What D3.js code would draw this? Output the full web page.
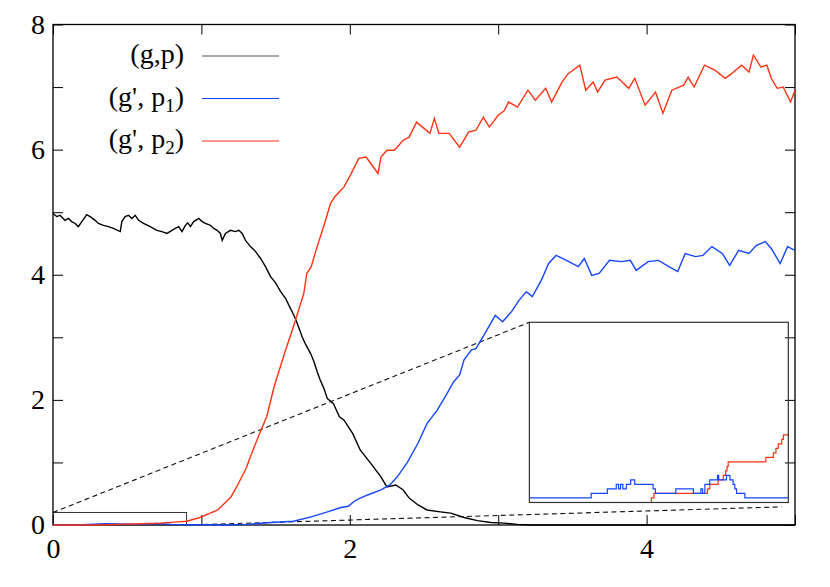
<!DOCTYPE html>
<html>
<head>
<meta charset="utf-8">
<script src="https://cdn.jsdelivr.net/npm/d3@7"></script>
<style>
  body { margin: 0; background: #fff; }
  text { font-family: "Liberation Serif", "DejaVu Serif", serif; }
</style>
</head>
<body>
<div id="chart"></div>
<script>
// series: [time, value]
var seriesGP = [[0,4.98],[0.025,4.93],[0.047,4.95],[0.081,4.87],[0.104,4.90],[0.126,4.85],[0.149,4.82],
  [0.171,4.77],[0.194,4.85],[0.227,4.96],[0.250,4.93],[0.284,4.87],[0.306,4.82],[0.340,4.79],[0.374,4.77],
  [0.407,4.74],[0.453,4.69],[0.464,4.85],[0.486,4.93],[0.509,4.95],[0.531,4.90],[0.554,4.95],[0.577,4.87],
  [0.610,4.82],[0.655,4.77],[0.700,4.71],[0.734,4.69],[0.768,4.66],[0.802,4.71],[0.824,4.74],[0.847,4.77],
  [0.869,4.69],[0.892,4.79],[0.908,4.83],[0.926,4.77],[0.948,4.85],[0.982,4.90],[1.005,4.85],[1.027,4.82],
  [1.061,4.79],[1.083,4.74],[1.106,4.71],[1.128,4.66],[1.14,4.55],[1.162,4.66],[1.196,4.71],[1.23,4.69],
  [1.252,4.71],[1.275,4.66],[1.297,4.55],[1.331,4.45],[1.365,4.37],[1.399,4.26],[1.432,4.13],[1.466,3.97],
  [1.50,3.87],[1.534,3.73],[1.568,3.62],[1.59,3.51],[1.624,3.35],[1.646,3.22],[1.68,3.00],[1.70,2.90],
  [1.736,2.74],[1.759,2.61],[1.78,2.45],[1.80,2.32],[1.826,2.18],[1.849,2.02],[1.89,1.94],[1.93,1.73],
  [1.96,1.68],[2.02,1.46],[2.07,1.20],[2.14,0.99],[2.21,0.77],[2.25,0.61],[2.31,0.64],[2.36,0.56],
  [2.40,0.43],[2.46,0.32],[2.52,0.24],[2.61,0.21],[2.68,0.19],[2.77,0.12],[2.86,0.07],[2.95,0.04],[3.04,0.03],
  [3.13,0.01],[3.22,0],[5,0]];

var seriesP1 = [[0,0],[0.2,0.005],[0.35,0.02],[0.45,0.015],[0.6,0.01],[0.7,0.025],[0.8,0.01],[0.9,0.005],
  [1.0,0.005],[1.17,0],[1.3,0.01],[1.47,0.04],[1.62,0.06],[1.74,0.13],[1.85,0.21],[1.94,0.28],[1.99,0.30],
  [2.03,0.38],[2.07,0.43],[2.12,0.48],[2.21,0.56],[2.27,0.64],[2.32,0.77],[2.39,1.01],[2.46,1.31],[2.52,1.62],
  [2.59,1.84],[2.65,2.08],[2.70,2.29],[2.74,2.40],[2.77,2.64],[2.82,2.80],[2.85,2.82],[2.91,3.06],[2.98,3.35],
  [3.03,3.25],[3.09,3.41],[3.14,3.59],[3.19,3.73],[3.23,3.65],[3.29,3.91],[3.34,4.18],[3.39,4.31],[3.46,4.23],
  [3.54,4.13],[3.58,4.26],[3.63,3.99],[3.68,4.02],[3.75,4.23],[3.83,4.21],[3.89,4.23],[3.93,4.07],[4.01,4.21],
  [4.08,4.23],[4.15,4.13],[4.21,4.05],[4.26,4.34],[4.33,4.29],[4.38,4.31],[4.44,4.45],[4.51,4.34],[4.56,4.15],
  [4.62,4.39],[4.69,4.34],[4.74,4.47],[4.80,4.53],[4.84,4.42],[4.90,4.18],[4.95,4.45],[5.0,4.39]];

var seriesP2 = [[0,0],[0.3,0],[0.45,0.01],[0.6,0.02],[0.72,0.03],[0.84,0.05],[0.90,0.06],[0.99,0.12],[1.06,0.19],
  [1.11,0.24],[1.17,0.38],[1.20,0.45],[1.24,0.62],[1.30,0.90],[1.34,1.15],[1.39,1.45],[1.44,1.73],[1.49,2.21],
  [1.56,2.74],[1.62,3.17],[1.69,3.70],[1.71,4.02],[1.74,4.13],[1.78,4.45],[1.83,4.82],[1.87,5.14],[1.90,5.25],
  [1.96,5.40],[2.01,5.62],[2.06,5.86],[2.11,5.88],[2.15,5.75],[2.19,5.62],[2.21,5.88],[2.25,5.99],[2.30,5.99],
  [2.36,6.15],[2.40,6.20],[2.45,6.44],[2.49,6.36],[2.54,6.26],[2.57,6.50],[2.60,6.26],[2.67,6.26],[2.74,6.04],
  [2.80,6.28],[2.85,6.31],[2.90,6.52],[2.94,6.36],[3.00,6.55],[3.04,6.62],[3.07,6.76],[3.13,6.68],[3.20,6.95],
  [3.25,6.79],[3.32,6.98],[3.36,6.76],[3.43,7.08],[3.47,7.21],[3.55,7.35],[3.59,6.95],[3.64,7.08],[3.67,6.92],
  [3.72,7.11],[3.80,7.16],[3.88,6.98],[3.92,7.14],[3.99,6.71],[4.06,6.92],[4.11,6.58],[4.17,6.95],[4.25,7.03],
  [4.28,7.16],[4.32,7.00],[4.39,7.35],[4.46,7.27],[4.53,7.14],[4.57,7.21],[4.64,7.35],[4.69,7.24],[4.72,7.51],
  [4.77,7.32],[4.81,7.35],[4.84,7.14],[4.88,6.98],[4.92,7.00],[4.97,6.76],[5.0,6.95]];

// inset: zoom of the box [0,0.9] x [0,0.2], step data
var insetP1 = [[0,0.005],[0.215,0.010],[0.271,0.015],[0.302,0.020],[0.310,0.015],[0.317,0.020],[0.325,0.015],
  [0.337,0.020],[0.352,0.025],[0.366,0.020],[0.430,0.015],[0.438,0.010],[0.509,0.015],[0.570,0.010],[0.596,0.015],
  [0.602,0.010],[0.610,0.020],[0.627,0.025],[0.654,0.030],[0.658,0.025],[0.685,0.030],[0.697,0.025],[0.708,0.020],
  [0.714,0.015],[0.720,0.010],[0.749,0.005],[0.9,0.005]];
var insetP2 = [[0,0],[0.424,0.005],[0.433,0.010],[0.619,0.015],[0.627,0.020],[0.656,0.025],[0.674,0.030],
  [0.682,0.035],[0.687,0.040],[0.691,0.045],[0.822,0.050],[0.848,0.055],[0.857,0.060],[0.865,0.065],
  [0.877,0.070],[0.883,0.075],[0.9,0.075]];

var xTicks = [0, 1, 2, 3, 4, 5];
var yTicks = [0, 1, 2, 3, 4, 5, 6, 7, 8];

var margin = {top: 24.5, right: 35, bottom: 62, left: 53},
    width = 830 - margin.left - margin.right,
    height = 587 - margin.top - margin.bottom;

var svg = d3.select("#chart")
    .append("svg")
    .attr("width", 830)
    .attr("height", 587)
    .append("g")
    .attr("transform", "translate(" + margin.left + "," + margin.top + ")");

var x = d3.scaleLinear().domain([0, 5]).range([0, width]);
var y = d3.scaleLinear().domain([0, 8]).range([height, 0]);

var evenLabel = function(d) { return d % 2 === 0 ? d : ""; };

// axes, ticks pointing inwards on all four sides
var xAxis = svg.append("g")
    .attr("transform", "translate(0," + height + ")")
    .call(d3.axisBottom(x).tickValues(xTicks).tickSize(-10).tickPadding(13).tickFormat(evenLabel));
var yAxis = svg.append("g")
    .call(d3.axisLeft(y).tickValues(yTicks).tickSize(-10).tickPadding(8).tickFormat(evenLabel));
var xTop = svg.append("g")
    .call(d3.axisTop(x).tickValues(xTicks).tickSize(-10).tickFormat(""));
var yRight = svg.append("g")
    .attr("transform", "translate(" + width + ",0)")
    .call(d3.axisRight(y).tickValues(yTicks).tickSize(-10).tickFormat(""));

[xAxis, yAxis, xTop, yRight].forEach(function(g) {
  g.select(".domain").remove();
  g.selectAll(".tick line").attr("stroke", "#000").attr("stroke-width", 1);
  g.selectAll("text").attr("font-size", 28).attr("fill", "#000")
    .style("font-family", "'Liberation Serif', serif");
});

svg.append("rect")
    .attr("width", width).attr("height", height)
    .attr("fill", "none").attr("stroke", "#000").attr("stroke-width", 1.3);

// zoom box and its inset
var insetBox = {x0: 3.21, x1: 4.955, y0: 0.36, y1: 3.24};

svg.append("rect")
    .attr("x", x(0)).attr("y", y(0.2))
    .attr("width", x(0.9) - x(0)).attr("height", y(0) - y(0.2))
    .attr("fill", "none").attr("stroke", "#333").attr("stroke-width", 1);

svg.append("line")
    .attr("x1", x(0)).attr("y1", y(0.2))
    .attr("x2", x(insetBox.x0)).attr("y2", y(insetBox.y1))
    .attr("stroke", "#111").attr("stroke-width", 1.1).attr("stroke-dasharray", "5,3.5");
svg.append("line")
    .attr("x1", x(0.9)).attr("y1", y(0))
    .attr("x2", x(4.91)).attr("y2", y(0.29))
    .attr("stroke", "#111").attr("stroke-width", 1.1).attr("stroke-dasharray", "5,3.5");

var line = d3.line()
    .x(function(d) { return x(d[0]); })
    .y(function(d) { return y(d[1]); });

svg.append("path").datum(seriesGP).attr("d", line)
    .attr("fill", "none").attr("stroke", "#000").attr("stroke-width", 1.4);
svg.append("path").datum(seriesP1).attr("d", line)
    .attr("fill", "none").attr("stroke", "#1446ff").attr("stroke-width", 1.4);
svg.append("path").datum(seriesP2).attr("d", line)
    .attr("fill", "none").attr("stroke", "#ff3212").attr("stroke-width", 1.4);

// inset plot
var ix = d3.scaleLinear().domain([0, 0.9]).range([x(insetBox.x0), x(insetBox.x1)]);
var iy = d3.scaleLinear().domain([0, 0.2]).range([y(insetBox.y0), y(insetBox.y1)]);

var stepLine = d3.line()
    .curve(d3.curveStepAfter)
    .x(function(d) { return ix(d[0]); })
    .y(function(d) { return iy(d[1]); });

svg.append("path").datum(insetP2).attr("d", stepLine)
    .attr("fill", "none").attr("stroke", "#ff3212").attr("stroke-width", 1.2);
svg.append("path").datum(insetP1).attr("d", stepLine)
    .attr("fill", "none").attr("stroke", "#1446ff").attr("stroke-width", 1.2);

svg.append("rect")
    .attr("x", ix(0)).attr("y", iy(0.2))
    .attr("width", ix(0.9) - ix(0)).attr("height", iy(0) - iy(0.2))
    .attr("fill", "none").attr("stroke", "#333").attr("stroke-width", 1.2);

// legend
var legendNames = ["(g,p)", "(g', p", "(g', p"];
var legendSubs = ["", "1", "2"];
var legendColors = ["#555", "#1446ff", "#ff3212"];
var legend = svg.append("g").attr("transform", "translate(" + (-margin.left) + "," + (-margin.top) + ")");

legendNames.forEach(function(name, i) {
  var ly = 56 + i * 42.5;
  var t = legend.append("text")
      .attr("x", 184).attr("y", ly + 7)
      .attr("text-anchor", "end")
      .attr("font-size", 28)
      .attr("fill", "#000");
  t.append("tspan").text(name);
  if (legendSubs[i]) {
    t.append("tspan").attr("font-size", 19).attr("dy", 6).text(legendSubs[i]);
    t.append("tspan").attr("dy", -6).text(")");
  }
  legend.append("line")
      .attr("x1", 202).attr("x2", 279)
      .attr("y1", ly).attr("y2", ly)
      .attr("stroke", legendColors[i]).attr("stroke-width", 1.2);
});
</script>
</body>
</html>
